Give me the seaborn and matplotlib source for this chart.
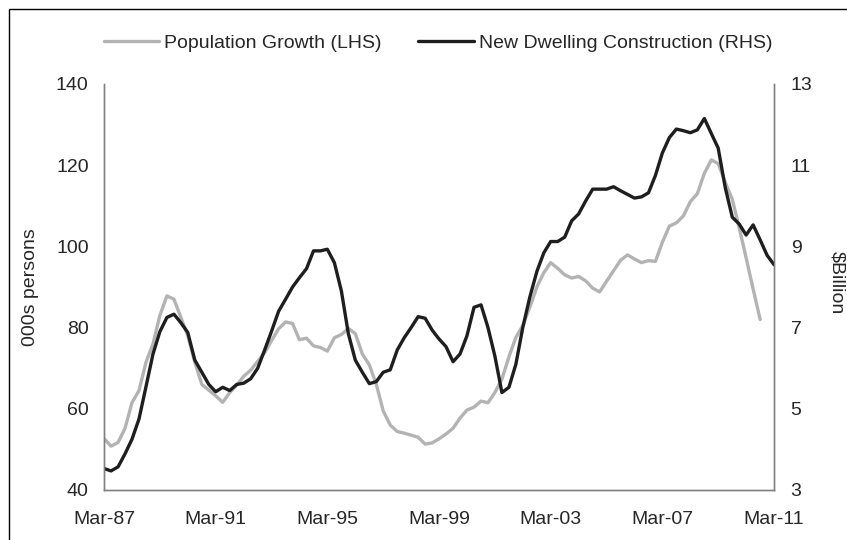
import numpy as np
import pandas as pd
import seaborn as sns
import matplotlib.pyplot as plt
import matplotlib.dates as mdates
from matplotlib.patches import Rectangle

sns.set_style("white")
plt.rcParams['font.family'] = ['Liberation Sans', 'DejaVu Sans']

# quarterly, Mar-87 to Mar-11
quarters = pd.date_range("1987-03-01", "2011-03-01", freq="3MS")

# population growth, 000s persons (LHS), ends Sep-10
pop_growth = [52.7, 50.8, 51.7, 55.2, 61.5, 64.5, 71.5, 76.0, 83.0, 87.8,
              87.0, 82.5, 78.0, 71.5, 66.0, 64.6, 63.2, 61.6, 64.0, 65.8,
              68.0, 69.5, 71.7, 73.8, 76.8, 79.7, 81.4, 81.0, 77.0, 77.4,
              75.5, 75.1, 74.2, 77.5, 78.3, 79.8, 78.5, 73.5, 70.8, 66.0,
              59.5, 56.0, 54.4, 54.0, 53.5, 53.0, 51.3, 51.6, 52.6, 53.8,
              55.2, 57.7, 59.7, 60.4, 61.9, 61.5, 64.0, 67.3, 72.8, 77.6,
              80.5, 85.0, 90.0, 93.5, 96.0, 94.6, 93.0, 92.2, 92.6, 91.5,
              89.7, 88.8, 91.4, 94.0, 96.6, 97.9, 96.9, 96.0, 96.5, 96.3,
              101.0, 105.0, 105.8, 107.5, 111.0, 113.0, 118.0, 121.3, 120.4, 115.8,
              111.6, 104.6, 97.2, 89.5, 82.0]

# new dwelling construction, $ billion (RHS)
dwelling = [3.53, 3.47, 3.57, 3.89, 4.25, 4.75, 5.55, 6.35, 6.90, 7.25,
            7.33, 7.12, 6.88, 6.20, 5.90, 5.60, 5.42, 5.53, 5.45, 5.60,
            5.63, 5.74, 6.00, 6.45, 6.91, 7.40, 7.70, 8.00, 8.23, 8.45,
            8.89, 8.89, 8.93, 8.60, 7.90, 6.85, 6.20, 5.90, 5.62, 5.67,
            5.90, 5.96, 6.45, 6.75, 7.00, 7.27, 7.23, 6.94, 6.72, 6.53,
            6.16, 6.35, 6.80, 7.50, 7.56, 7.00, 6.30, 5.40, 5.53, 6.10,
            7.00, 7.75, 8.38, 8.84, 9.12, 9.12, 9.23, 9.63, 9.80, 10.12,
            10.41, 10.41, 10.41, 10.47, 10.37, 10.28, 10.19, 10.22, 10.32, 10.75,
            11.30, 11.68, 11.89, 11.85, 11.80, 11.87, 12.15, 11.78, 11.42, 10.45,
            9.72, 9.55, 9.28, 9.53, 9.16, 8.78, 8.55]

left_ticks = [40, 60, 80, 100, 120, 140]
right_ticks = [3, 5, 7, 9, 11, 13]

df_pop = pd.DataFrame({"quarter": quarters[:len(pop_growth)], "value": pop_growth})
df_dw = pd.DataFrame({"quarter": quarters[:len(dwelling)], "value": dwelling})

fig = plt.figure(figsize=(8.47, 5.4), dpi=100)
ax = fig.add_axes([104 / 847, 50 / 540, 670 / 847, 406 / 540])
ax2 = ax.twinx()

sns.lineplot(data=df_pop, x="quarter", y="value", ax=ax, color="#b3b3b3",
             linewidth=2.4, label="Population Growth (LHS)", legend=False)
sns.lineplot(data=df_dw, x="quarter", y="value", ax=ax2, color="#1e1e1e",
             linewidth=2.4, label="New Dwelling Construction (RHS)", legend=False)

ax.set_xlim(quarters[0], quarters[-1])
ax.set_ylim(40, 140)
ax2.set_ylim(3, 13)
ax.set_yticks(left_ticks)
ax2.set_yticks(right_ticks)
ax.set_xticks(quarters[::16])
ax.xaxis.set_major_formatter(mdates.DateFormatter("%b-%y"))

fs = 14
ax.tick_params(axis="y", length=0, pad=11, labelsize=fs)
ax.tick_params(axis="x", length=0, pad=15, labelsize=fs)
ax2.tick_params(axis="y", length=0, pad=12, labelsize=fs)

for a in (ax, ax2):
    a.set_xlabel("")
    a.spines["top"].set_visible(False)
    for s in ("left", "bottom", "right"):
        a.spines[s].set_color("#808080")
        a.spines[s].set_linewidth(1.0)

ax.set_ylabel("000s persons", fontsize=fs, va="center")
ax.yaxis.set_label_coords(-0.109, 0.5)
ax2.set_ylabel("$Billion", fontsize=fs, rotation=270, va="center")
ax2.yaxis.set_label_coords(1.094, 0.51)

h1, l1 = ax.get_legend_handles_labels()
h2, l2 = ax2.get_legend_handles_labels()
fig.legend(h1 + h2, l1 + l2, loc="center", bbox_to_anchor=(438 / 847, 1 - 43 / 540),
           ncol=2, frameon=False, fontsize=fs, handlelength=2.85,
           handletextpad=0.25, columnspacing=1.9)

# outer frame (only left and top edges fall inside the picture)
fig.add_artist(Rectangle((8.5 / 847, -0.2), 1.5, (540 - 8.5) / 540 + 0.2,
                         transform=fig.transFigure, fill=False,
                         edgecolor="black", linewidth=1.0))

fig.savefig("out.png", dpi=100)
